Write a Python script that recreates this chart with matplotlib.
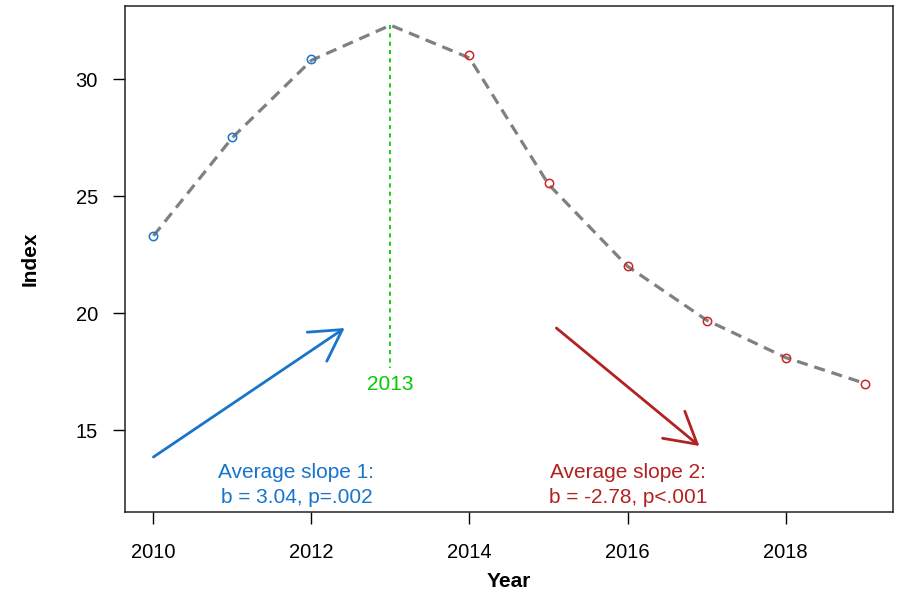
import matplotlib
matplotlib.use("Agg")
import matplotlib.pyplot as plt
import numpy as np

plt.rcParams['font.family'] = ['Liberation Sans', 'DejaVu Sans']
plt.rcParams['lines.scale_dashes'] = False

years = [2010, 2011, 2012, 2013, 2014, 2015, 2016, 2017, 2018, 2019]
fitted = [23.3, 27.5, 30.8, 32.3, 30.9, 25.5, 22.0, 19.7, 18.1, 17.0]
years_1 = [2010, 2011, 2012]
index_1 = [23.29, 27.52, 30.85]
years_2 = [2014, 2015, 2016, 2017, 2018, 2019]
index_2 = [31.03, 25.56, 22.01, 19.66, 18.08, 16.97]

break_year = 2013
break_top = 32.3
break_bottom = 17.65
break_label_y = 16.93

arrow1_start = (2010.0, 13.85)
arrow1_end = (2012.42, 19.36)
arrow2_start = (2015.10, 19.36)
arrow2_end = (2016.91, 14.32)

label1_pos = (2011.81, 12.66)
label2_pos = (2016.01, 12.66)
label1 = "Average slope 1:\nb = 3.04, p=.002"
label2 = "Average slope 2:\nb = -2.78, p<.001"

xticks = [2010, 2012, 2014, 2016, 2018]
yticks = [15, 20, 25, 30]

blue = '#1874CD'
red = '#B22222'
pt_red = '#CD2626'
green = '#00CD00'

fig = plt.figure(figsize=(9, 5.95), dpi=100)
ax = fig.add_axes([125/900, 1-512/595, (893-125)/900, (512-6)/595])

ax.plot(years, fitted, color='#808080', lw=2.3, dashes=(8.0, 5.0), zorder=2)
ax.plot(years_1, index_1, 'o', mfc='none', mec=blue, ms=6, mew=1.1, zorder=3)
ax.plot(years_2, index_2, 'o', mfc='none', mec=pt_red, ms=6, mew=1.1, zorder=3)

ax.plot([break_year, break_year], [break_top, break_bottom], color=green,
        lw=1.3, dashes=(3, 3), zorder=1)
ax.text(break_year, break_label_y, str(break_year), color=green, fontsize=15,
        ha='center', va='center')

for (s, e, c) in [(arrow1_start, arrow1_end, blue), (arrow2_start, arrow2_end, red)]:
    ax.annotate('', xy=e, xytext=s,
                arrowprops=dict(arrowstyle='->,head_length=2.2,head_width=1.26',
                                mutation_scale=10, color=c, lw=2,
                                shrinkA=0, shrinkB=0))

ax.text(*label1_pos, label1, color=blue, fontsize=15, ha='center', va='center',
        linespacing=1.38)
ax.text(*label2_pos, label2, color=red, fontsize=15, ha='center', va='center',
        linespacing=1.38)

ax.set_xlim(2009.64, 2019.36)
ax.set_ylim(11.5, 33.12)
ax.set_xticks(xticks)
ax.set_yticks(yticks)
ax.tick_params(direction='out', length=8.6, width=1, labelsize=14.5, pad=11)
ax.tick_params(axis='x', pad=14)
for sp in ax.spines.values():
    sp.set_linewidth(1.1)
    sp.set_color('#222222')

ax.set_xlabel('Year', fontsize=15, fontweight='bold', labelpad=7)
ax.set_ylabel('Index', fontsize=15, fontweight='bold', labelpad=26)

fig.savefig('out.png', dpi=100)
